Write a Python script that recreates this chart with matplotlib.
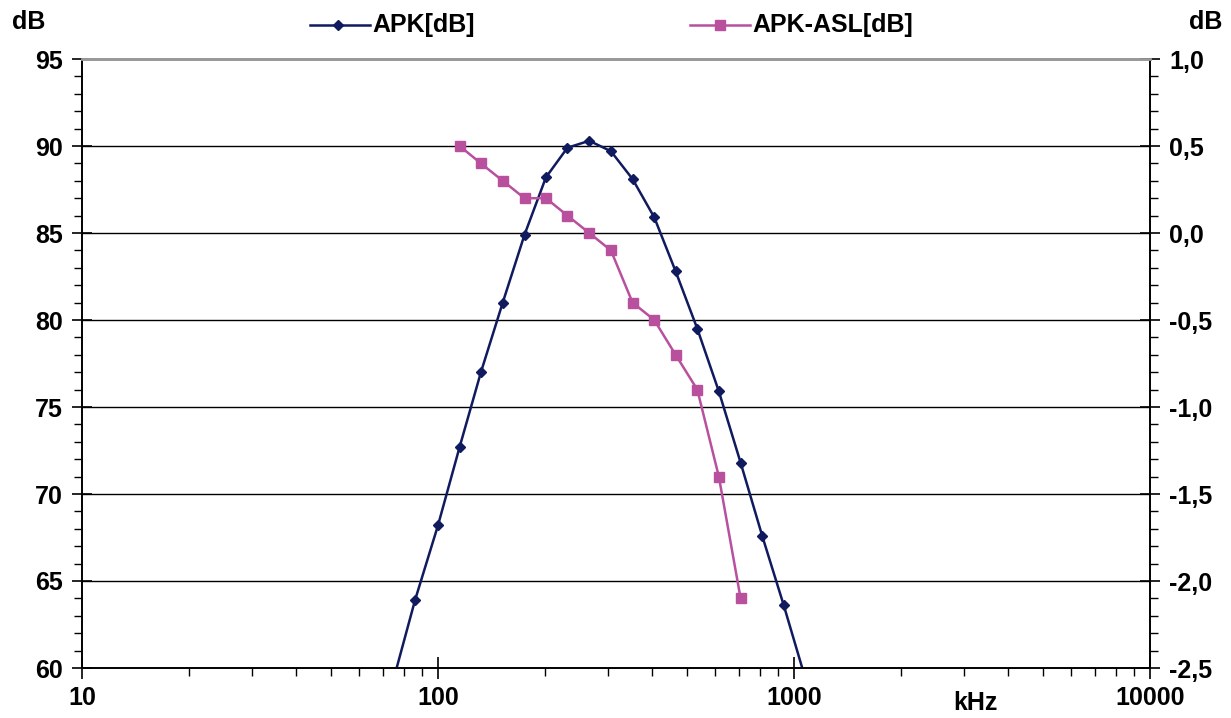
import matplotlib
matplotlib.use("Agg")
import matplotlib.pyplot as plt
from matplotlib.ticker import FixedLocator, FuncFormatter, LogLocator, NullFormatter
from matplotlib.lines import Line2D

# Data
freq_apk = [75.6, 86.2, 100, 115, 132, 152, 175, 201, 231, 266, 306, 352, 405, 465, 535, 615, 708, 814, 936, 1076]
apk_db = [59.6, 63.9, 68.2, 72.7, 77.0, 81.0, 84.9, 88.2, 89.9, 90.3, 89.7, 88.1, 85.9, 82.8, 79.5, 75.9, 71.8, 67.6, 63.6, 59.4]

freq_asl = [115, 132, 152, 175, 201, 231, 266, 306, 352, 405, 465, 535, 615, 708]
apk_asl_db = [0.5, 0.4, 0.3, 0.2, 0.2, 0.1, 0.0, -0.1, -0.4, -0.5, -0.7, -0.9, -1.4, -2.1]

left_ticks = [60, 65, 70, 75, 80, 85, 90, 95]
right_ticks = [-2.5, -2.0, -1.5, -1.0, -0.5, 0.0, 0.5, 1.0]
x_ticks = [10, 100, 1000, 10000]
series_names = ["APK[dB]", "APK-ASL[dB]"]

NAVY = "#101A5E"
PINK = "#B8509E"
FS = 18

plt.rcParams['font.family'] = ['Liberation Sans', 'DejaVu Sans']
plt.rcParams['font.weight'] = 'bold'

W, H = 1231, 718
fig = plt.figure(figsize=(W / 100, H / 100), dpi=100)
ax = fig.add_axes([82/W, 1-668/H, (1150-82)/W, (668-59)/H])
ax2 = ax.twinx()

ax.set_xscale('log')
ax.set_xlim(10, 10000)
ax.set_ylim(60, 95)
ax2.set_ylim(-2.5, 1.0)

# grid lines
for v in left_ticks[1:-1]:
    ax.axhline(v, color='black', lw=1.0, zorder=1)

ax.plot(freq_apk, apk_db, color=NAVY, lw=1.8, marker='D', ms=5.5,
        mfc=NAVY, mec=NAVY, zorder=3)
ax2.plot(freq_asl, apk_asl_db, color=PINK, lw=1.8, marker='s', ms=7.5,
         mfc=PINK, mec=PINK, zorder=3)

# spines
for a in (ax, ax2):
    a.spines['top'].set_color('#999999')
    a.spines['top'].set_linewidth(2)
    for s in ('left', 'right', 'bottom'):
        a.spines[s].set_color('black')
        a.spines[s].set_linewidth(1.2)

# y ticks left
ax.yaxis.set_major_locator(FixedLocator(left_ticks))
ax.yaxis.set_minor_locator(FixedLocator([v for v in range(60, 96) if v % 5]))
ax.tick_params(axis='y', which='major', direction='inout', length=14, width=1.2,
               labelsize=FS, pad=7)
ax.tick_params(axis='y', which='minor', direction='out', length=6, width=1.0)
ax.yaxis.set_major_formatter(FuncFormatter(lambda v, p: f"{v:.0f}"))

# right ticks
ax2.yaxis.set_major_locator(FixedLocator(right_ticks))
ax2.yaxis.set_minor_locator(FixedLocator([-2.5 + 0.1 * i for i in range(36) if i % 5]))
ax2.tick_params(axis='y', which='major', direction='inout', length=14, width=1.2,
                labelsize=FS, pad=7)
ax2.tick_params(axis='y', which='minor', direction='out', length=6, width=1.0)
ax2.yaxis.set_major_formatter(FuncFormatter(lambda v, p: f"{v:.1f}".replace('.', ',').replace('-0,0', '0,0')))

# x ticks
ax.xaxis.set_major_locator(FixedLocator(x_ticks))
ax.xaxis.set_minor_locator(LogLocator(base=10, subs=range(2, 10)))
ax.xaxis.set_minor_formatter(NullFormatter())
ax.xaxis.set_major_formatter(FuncFormatter(lambda v, p: f"{v:.0f}"))
ax.tick_params(axis='x', which='major', direction='inout', length=16, width=1.2,
               labelsize=FS, pad=5)
ax.tick_params(axis='x', which='minor', direction='out', length=6, width=1.0)

for lab in ax.get_xticklabels() + ax.get_yticklabels() + ax2.get_yticklabels():
    lab.set_fontweight('bold')

# axis unit texts
fig.text(12/W, 1-22/H, "dB", fontsize=FS, fontweight='bold', va='center', ha='left')
fig.text(1222/W, 1-22/H, "dB", fontsize=FS, fontweight='bold', va='center', ha='right')
fig.text(975/W, 1-703/H, "kHz", fontsize=FS, fontweight='bold', va='center', ha='center')

# manual legend
ly = 1 - 25/H
for (x0, x1, xm, name, col, mk, ms) in [
        (310, 370, 338, series_names[0], NAVY, 'D', 5.5),
        (690, 750, 720, series_names[1], PINK, 's', 7.5)]:
    fig.add_artist(Line2D([x0/W, x1/W], [ly, ly], color=col, lw=1.8,
                          transform=fig.transFigure))
    fig.add_artist(Line2D([xm/W], [ly], color=col, marker=mk, ms=ms, mfc=col, mec=col,
                          transform=fig.transFigure))
    fig.text((x1 + 2)/W, ly, name, fontsize=FS, fontweight='bold', va='center', ha='left')

fig.savefig("out.png", dpi=100)
